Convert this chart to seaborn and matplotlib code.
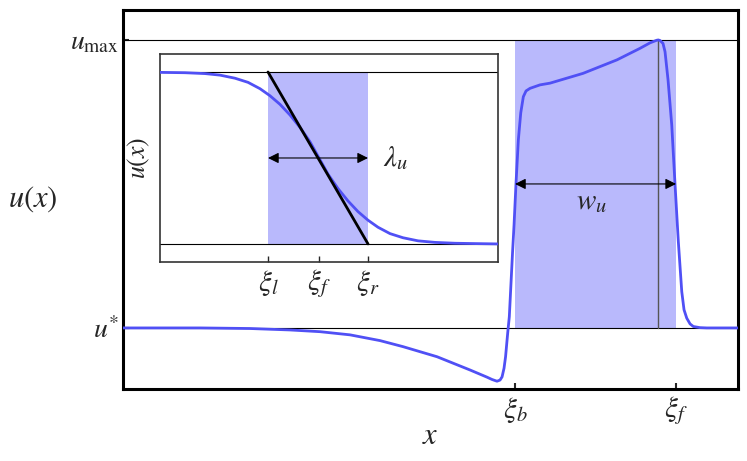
import numpy as np
import pandas as pd
import matplotlib
matplotlib.use("Agg")
import matplotlib.pyplot as plt
import seaborn as sns

# ---------------- data ----------------
main_x = [0.0, 12.52, 20.65, 27.15, 32.03, 36.91, 41.79, 45.53, 51.06, 56.42,
          59.19, 60.0, 60.81, 61.3, 61.63, 61.95, 62.2, 62.55, 62.81, 63.33,
          63.58, 63.90, 64.28, 64.67, 65.09, 65.53, 66.18, 67.80, 69.43, 74.80,
          80.33, 84.07, 85.69, 86.78, 87.04, 87.32, 87.80, 88.13, 88.62, 89.22,
          89.76, 90.29, 90.85, 91.22, 91.66, 92.20, 92.73, 93.82, 94.91, 100.0]
main_u = [0.0, 0.0, -0.002, -0.007, -0.013, -0.024, -0.044, -0.065, -0.100, -0.146,
          -0.171, -0.179, -0.185, -0.181, -0.170, -0.140, -0.100, -0.017, 0.039, 0.260,
          0.358, 0.503, 0.653, 0.747, 0.803, 0.823, 0.832, 0.844, 0.850, 0.884,
          0.931, 0.971, 0.990, 0.999, 1.0, 0.998, 0.988, 0.959, 0.861, 0.705,
          0.497, 0.300, 0.126, 0.063, 0.034, 0.014, 0.005, 0.001, 0.0, 0.0]
u_star, u_max = 0.0, 1.0
xi_b, xi_f, x_peak = 63.74, 89.92, 87.04
main_xticklabels = [r"$\xi_b$", r"$\xi_f$"]
main_yticklabels = [r"$u^{*}$", r"$u_{\max}$"]

inset_x = [0.0, 0.740, 1.331, 1.775, 2.219, 2.604, 2.959, 3.254, 3.550, 3.846,
           4.142, 4.438, 4.704, 4.970, 5.266, 5.562, 5.858, 6.154, 6.450, 6.805,
           7.189, 7.633, 8.136, 8.728, 9.320, 10.0]
inset_u = [0.998, 0.996, 0.991, 0.982, 0.964, 0.940, 0.903, 0.862, 0.812, 0.750,
           0.678, 0.594, 0.500, 0.406, 0.322, 0.250, 0.188, 0.138, 0.097, 0.060,
           0.036, 0.018, 0.009, 0.004, 0.002, 0.0]
xi_l_in, xi_f_in, xi_r_in = 3.195, 4.704, 6.154
inset_xticklabels = [r"$\xi_l$", r"$\xi_f$", r"$\xi_r$"]

# ---------------- style ----------------
sns.set_theme(style="white")
plt.rcParams['mathtext.fontset'] = 'stix'
plt.rcParams['font.family'] = ['STIXGeneral', 'DejaVu Serif']

curve_col = '#5050f5'
shade_col = '#b9b9fc'

fig = plt.figure(figsize=(7.47, 4.61), dpi=100)
ax = fig.add_axes([0.1647, 0.1562, 0.8233, 0.8221])

main_df = pd.DataFrame({"x": main_x, "u": main_u})
ax.fill_between([xi_b, xi_f], [u_star, u_star], [u_max, u_max], color=shade_col, lw=0, zorder=1)
ax.axhline(u_star, color='black', lw=0.8, zorder=2)
ax.axhline(u_max, color='black', lw=0.8, zorder=2)
ax.plot([x_peak, x_peak], [u_star, u_max], color='#555555', lw=1.0, zorder=2)
sns.lineplot(data=main_df, x="x", y="u", ax=ax, color=curve_col, lw=2.0,
             estimator=None, sort=False, zorder=3)
ax.annotate('', xy=(xi_b, 0.5), xytext=(xi_f, 0.5),
            arrowprops=dict(arrowstyle='<|-|>', color='black', lw=0.8,
                            mutation_scale=16, shrinkA=0, shrinkB=0), zorder=4)
ax.text(76.26, 0.434, r"$w_u$", fontsize=21, ha='center', va='center')

ax.set_xlim(0, 100)
ax.set_ylim(-0.212, 1.104)
ax.set_xticks([xi_b, xi_f])
ax.set_xticklabels(main_xticklabels, fontsize=21)
ax.set_yticks([u_star, u_max])
ax.set_yticklabels(main_yticklabels, fontsize=20)
ax.tick_params(bottom=True, left=True, direction='in', length=4, width=1.5, pad=4)
ax.tick_params(axis='y', pad=3)
for s in ax.spines.values():
    s.set_linewidth(2.2)
    s.set_color('black')
ax.set_xlabel(r"$x$", fontsize=22, va='center')
ax.xaxis.set_label_coords(0.5, -0.127)
ax.set_ylabel(r"$u(x)$", fontsize=22, rotation=0, ha='center', va='center')
ax.yaxis.set_label_coords(-0.146, 0.5)

# ---------------- inset ----------------
axin = fig.add_axes([0.2142, 0.4317, 0.4525, 0.4512])
inset_df = pd.DataFrame({"x": inset_x, "u": inset_u})
axin.fill_between([xi_l_in, xi_r_in], [0, 0], [1, 1], color=shade_col, lw=0, zorder=1)
axin.axhline(0, color='black', lw=0.8, zorder=2)
axin.axhline(1, color='black', lw=0.8, zorder=2)
sns.lineplot(data=inset_df, x="x", y="u", ax=axin, color=curve_col, lw=2.0,
             estimator=None, sort=False, zorder=3)
axin.plot([xi_l_in, xi_r_in], [1, 0], color='black', lw=2.0, zorder=4)
axin.annotate('', xy=(xi_l_in, 0.5), xytext=(xi_r_in, 0.5),
              arrowprops=dict(arrowstyle='<|-|>', color='black', lw=0.8,
                              mutation_scale=16, shrinkA=0, shrinkB=0), zorder=5)
axin.text(6.6, 0.5, r"$\lambda_u$", fontsize=21, ha='left', va='center')
axin.set_xlim(0, 10)
axin.set_ylim(-0.105, 1.105)
axin.set_xticks([xi_l_in, xi_f_in, xi_r_in])
axin.set_xticklabels(inset_xticklabels, fontsize=21)
axin.set_yticks([])
axin.tick_params(bottom=True, direction='in', length=4, width=1.0, pad=4)
for s in axin.spines.values():
    s.set_linewidth(1.2)
    s.set_color('#333333')
axin.set_xlabel("")
axin.set_ylabel(r"$u(x)$", fontsize=18.5, va='center')
axin.yaxis.set_label_coords(-0.062, 0.5)

fig.savefig("out.png", dpi=100)
